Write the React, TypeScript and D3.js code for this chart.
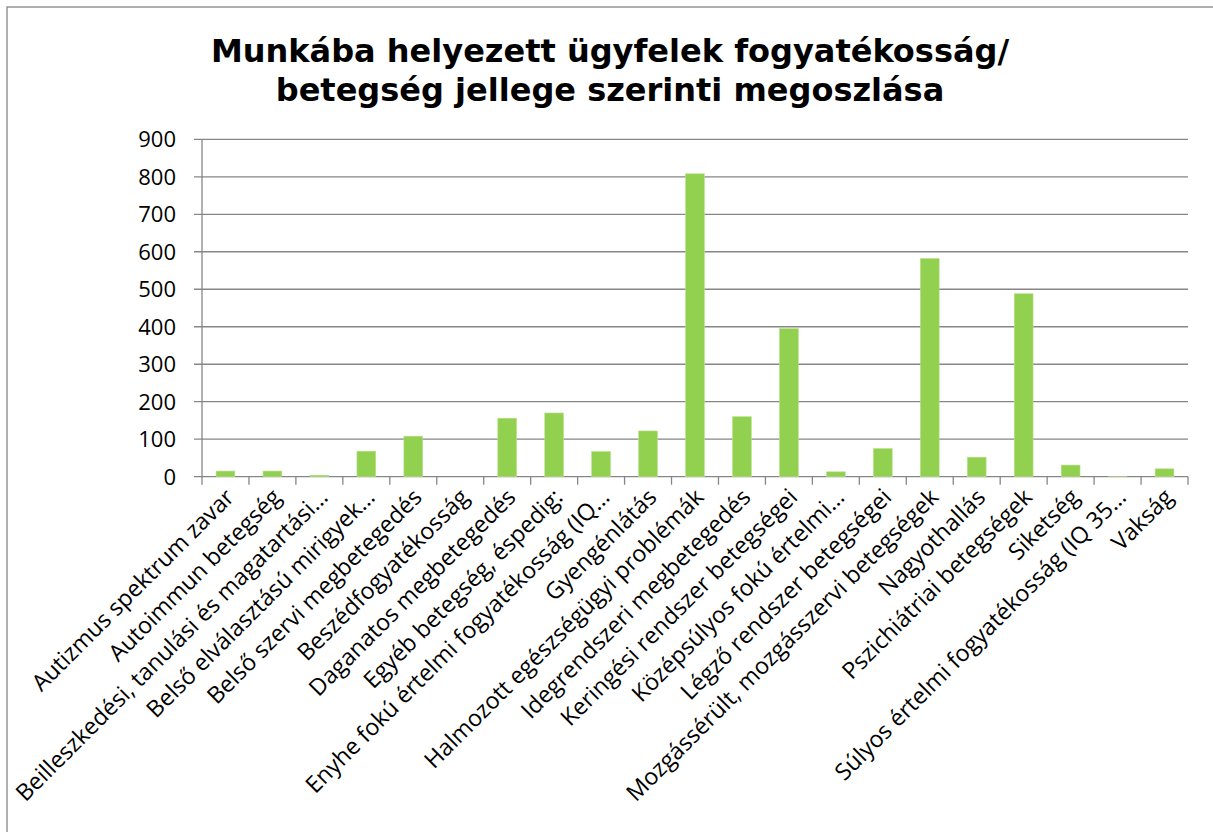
import React from "react";
import * as d3 from "d3";

const categories: string[] = [
  "Autizmus spektrum zavar",
  "Autoimmun betegség",
  "Beilleszkedési, tanulási és magatartási…",
  "Belső elválasztású mirigyek…",
  "Belső szervi megbetegedés",
  "Beszédfogyatékosság",
  "Daganatos megbetegedés",
  "Egyéb betegség, éspedig:",
  "Enyhe fokú értelmi fogyatékosság (IQ…",
  "Gyengénlátás",
  "Halmozott egészségügyi problémák",
  "Idegrendszeri megbetegedés",
  "Keringési rendszer betegségei",
  "Középsúlyos fokú értelmi…",
  "Légző rendszer betegségei",
  "Mozgássérült, mozgásszervi betegségek",
  "Nagyothallás",
  "Pszichiátriai betegségek",
  "Siketség",
  "Súlyos értelmi fogyatékosság (IQ 35…",
  "Vakság",
];

const values: number[] = [15, 15, 4, 68, 108, 0, 156, 170, 67, 122, 808, 160, 395, 13, 75, 582, 52, 488, 31, 1, 21];

const yTicks: number[] = [0, 100, 200, 300, 400, 500, 600, 700, 800, 900];

const titleLines: string[] = [
  "Munkába helyezett ügyfelek fogyatékosság/",
  "betegség jellege szerinti megoszlása",
];

export default function App() {
  const W = 1213;
  const H = 832;
  const left = 202;
  const right = 1188;
  const top = 139.3;
  const bottom = 476.7;

  const x = d3
    .scaleBand<string>()
    .domain(categories)
    .range([left, right])
    .paddingInner(0.6)
    .paddingOuter(0.3);
  const y = d3.scaleLinear().domain([0, 900]).range([bottom, top]);
  const step = x.step();
  const gridColor = "#868686";
  const labelFont = "'Open Sans', 'Noto Sans', sans-serif";

  return (
    <svg
      width={W}
      height={H}
      style={{ position: "absolute", left: 0, top: 0, background: "#fff" }}
    >
      <rect x={0} y={0} width={W} height={H} fill="#fff" />
      <rect x={7} y={7} width={W + 20} height={H + 20} fill="none" stroke={gridColor} strokeWidth={1.3} />
      {titleLines.map((t, i) => (
        <text
          key={i}
          x={610}
          y={62 + i * 39}
          textAnchor="middle"
          fontFamily="'DejaVu Sans', Verdana, sans-serif"
          fontWeight="bold"
          fontSize={32}
          fill="#000"
        >
          {t}
        </text>
      ))}
      {yTicks.map((v) => (
        <g key={v}>
          <line x1={left - 8} x2={right} y1={y(v)} y2={y(v)} stroke={gridColor} strokeWidth={1.3} />
          <text
            x={left - 26}
            y={y(v)}
            dy="0.36em"
            textAnchor="end"
            fontFamily={labelFont}
            fontSize={22}
            fill="#000"
          >
            {v}
          </text>
        </g>
      ))}
      <line x1={left} x2={left} y1={top} y2={bottom} stroke={gridColor} strokeWidth={1.3} />
      {d3.range(categories.length + 1).map((i) => (
        <line
          key={i}
          x1={left + i * step}
          x2={left + i * step}
          y1={bottom}
          y2={bottom + 8}
          stroke={gridColor}
          strokeWidth={1.3}
        />
      ))}
      {categories.map((c, i) => (
        <rect
          key={c}
          x={x(c)}
          y={y(values[i])}
          width={x.bandwidth()}
          height={bottom - y(values[i])}
          fill="#92D050"
          stroke="#b8e08a"
          strokeWidth={0.6}
        />
      ))}
      {categories.map((c) => {
        const cx = (x(c) as number) + x.bandwidth() / 2 + 10;
        const cy = bottom + 22;
        return (
          <text
            key={c}
            transform={`translate(${cx},${cy}) rotate(-45)`}
            textAnchor="end"
            fontFamily={labelFont}
            fontSize={23.2}
            fill="#000"
          >
            {c}
          </text>
        );
      })}
    </svg>
  );
}
